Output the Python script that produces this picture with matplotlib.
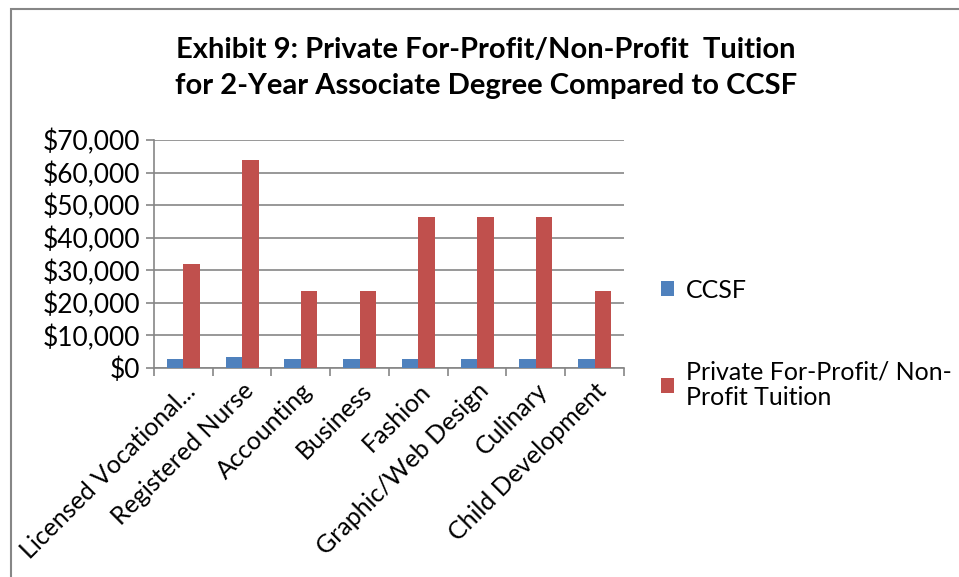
import matplotlib.pyplot as plt
import numpy as np
from matplotlib.patches import Rectangle
from matplotlib.ticker import FuncFormatter

categories = ["Licensed Vocational...", "Registered Nurse", "Accounting", "Business",
              "Fashion", "Graphic/Web Design", "Culinary", "Child Development"]
ccsf = [2700, 3400, 2900, 2700, 2700, 2800, 2800, 2700]
private = [32000, 64000, 23500, 23500, 46400, 46400, 46400, 23500]

plt.rcParams['font.family'] = ['Lato', 'DejaVu Sans']

fig = plt.figure(figsize=(9.59, 5.77), dpi=100)
ax = fig.add_axes([0.1606, 0.3622, 0.49, 0.3952])

x = np.arange(len(categories))
w = 0.28
ax.bar(x - w / 2, ccsf, w, color='#4F81BD', label='CCSF', zorder=3)
ax.bar(x + w / 2, private, w, color='#C0504D',
       label='Private For-Profit/ Non-\nProfit Tuition', zorder=3)

ax.set_xlim(-0.5, len(categories) - 0.5)
ax.set_ylim(0, 70000)
ax.set_yticks(np.arange(0, 70001, 10000))
ax.yaxis.set_major_formatter(FuncFormatter(lambda v, p: '${:,.0f}'.format(v)))
ax.set_xticks(np.arange(len(categories) + 1) - 0.5, minor=False)
ax.set_xticklabels([])
ax.set_xticks(x, minor=True)
ax.set_xticklabels(categories, minor=True, rotation=45, ha='right',
                   rotation_mode='anchor', fontsize=18)
ax.tick_params(axis='x', which='minor', length=0, pad=8)
ax.tick_params(axis='x', which='major', length=6, color='#868686', width=1.2)
ax.tick_params(axis='y', length=6, color='#868686', width=1.2, labelsize=19, pad=4)
ax.grid(axis='y', color='#868686', linewidth=1.2, zorder=0)
for s in ['top', 'right']:
    ax.spines[s].set_visible(False)
for s in ['left', 'bottom']:
    ax.spines[s].set_color('#868686')
    ax.spines[s].set_linewidth(1.2)

fig.text(0.507, 0.882, "Exhibit 9: Private For-Profit/Non-Profit  Tuition\nfor 2-Year Associate Degree Compared to CCSF",
         ha='center', va='center', fontsize=21, fontweight='bold', linespacing=1.5)

leg = ax.legend(loc='upper left', bbox_to_anchor=(1.03, 0.49), frameon=False,
                fontsize=18, handlelength=0.55, handleheight=0.55, labelspacing=2.35,
                handletextpad=0.45)
for t in leg.get_texts():
    t.set_linespacing(1.12)

fig.patches.append(Rectangle((0.0115, -0.1), 1.1, 1.084, transform=fig.transFigure,
                             fill=False, edgecolor='#868686', linewidth=1.5))

fig.savefig('out.png', dpi=100)
